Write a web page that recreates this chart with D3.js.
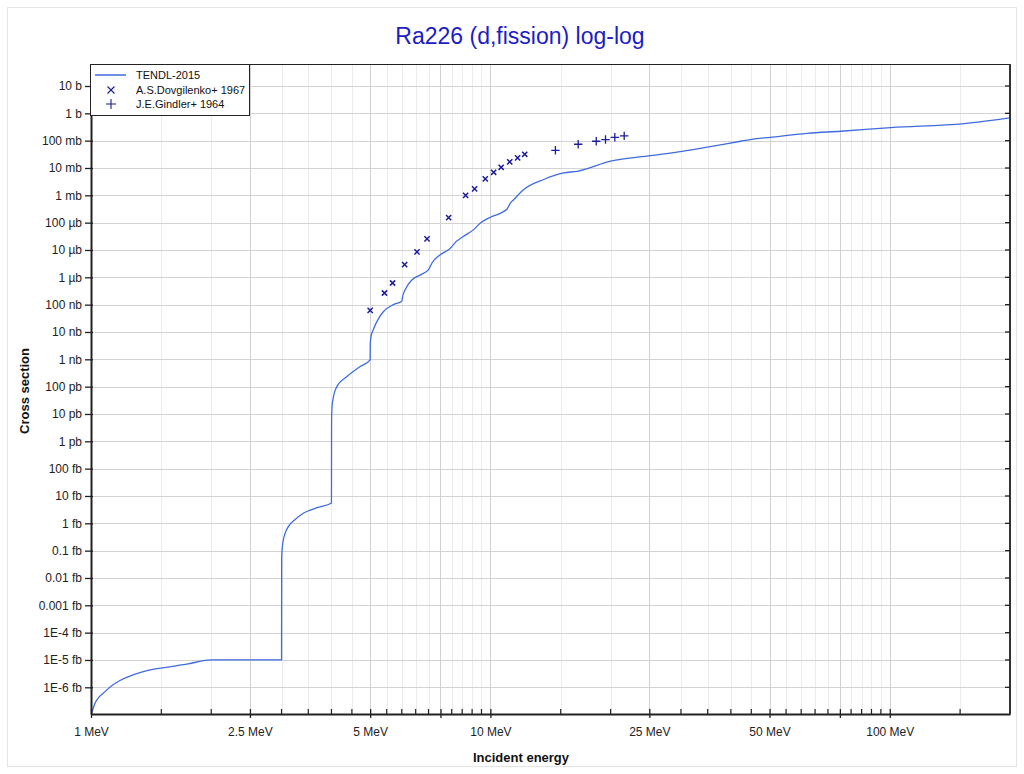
<!DOCTYPE html>
<html>
<head>
<meta charset="utf-8">
<script src="https://cdn.jsdelivr.net/npm/d3@7"></script>
<style>
  html, body { margin: 0; padding: 0; background: #fff; }
  svg { display: block; font-family: "Liberation Sans", Arial, sans-serif; }
</style>
</head>
<body>
<svg id="chart" width="1024" height="774"></svg>
<script>
// ---------------- DATA ----------------
const titleText = "Ra226 (d,fission) log-log";
const xAxisTitle = "Incident energy";
const yAxisTitle = "Cross section";

// TENDL-2015 evaluated curve: energy (MeV), cross section (barns)
const tendlEnergy = [
  1.0, 1.003, 1.006, 1.0116, 1.0233, 1.047, 1.073, 1.12, 1.182, 1.26, 1.352, 1.45, 1.578, 1.75, 2.0,
  3.0, 3.002, 3.01, 3.03, 3.06, 3.12, 3.25, 3.4, 3.7, 4.0,
  4.003, 4.015, 4.035, 4.129, 4.374, 4.724, 5.0,
  5.003, 5.02, 5.1, 5.25, 5.4, 5.72, 6.0,
  6.03, 6.12, 6.37, 6.7, 7.0, 7.14, 7.49, 8.02, 8.08, 8.57, 9.08, 9.44, 10.0,
  11.01, 11.2, 11.44, 12.12, 13.6, 15.27, 16.5, 20.0, 25.2, 30.2, 35.25, 42.3, 44.8,
  50.3, 62.2, 75.4, 100.6, 153.6, 200
];
const tendlXS = [
  1.05e-22, 1.15e-22, 1.3e-22, 1.62e-22, 2.6e-22, 4.4e-22, 6.03e-22, 1.07e-21, 1.78e-21, 2.69e-21, 3.72e-21, 4.68e-21, 5.62e-21, 7.24e-21, 1.0e-20,
  1.0e-20, 5.01e-17, 1.12e-16, 2.40e-16, 4.17e-16, 7.59e-16, 1.41e-15, 2.34e-15, 3.80e-15, 5.50e-15,
  6.31e-12, 2.0e-11, 3.39e-11, 1.02e-10, 2.34e-10, 5.50e-10, 9.55e-10,
  3.16e-9, 6.31e-9, 1.29e-8, 3.16e-8, 5.62e-8, 1.0e-7, 1.32e-7,
  2.0e-7, 3.55e-7, 8.13e-7, 1.26e-6, 1.91e-6, 3.35e-6, 6.76e-6, 1.35e-5, 1.58e-5, 3.16e-5, 5.56e-5, 9.77e-5, 1.58e-4,
  3.16e-4, 5.01e-4, 6.92e-4, 1.62e-3, 3.80e-3, 6.61e-3, 7.59e-3, 1.78e-2, 2.85e-2, 4.07e-2, 5.93e-2, 9.51e-2, 0.110,
  0.133, 0.186, 0.221, 0.302, 0.423, 0.684
];

// A.S.Dovgilenko+ 1967 (x markers)
const dovgEnergy = [5.0, 5.43, 5.69, 6.10, 6.55, 6.94, 7.86, 8.67, 9.13, 9.71, 10.19, 10.64, 11.18, 11.70, 12.19];
const dovgXS = [6.2e-8, 2.67e-7, 6.2e-7, 2.9e-6, 8.5e-6, 2.54e-5, 1.53e-4, 1.0e-3, 1.72e-3, 3.99e-3, 6.97e-3, 1.06e-2, 1.67e-2, 2.34e-2, 3.18e-2];

// J.E.Gindler+ 1964 (+ markers)
const gindEnergy = [14.55, 16.59, 18.41, 19.42, 20.49, 21.63];
const gindXS = [4.44e-2, 7.38e-2, 9.5e-2, 0.11, 0.133, 0.15];

const seriesNames = ["TENDL-2015", "A.S.Dovgilenko+ 1967", "J.E.Gindler+ 1964"];

// Axis ticks
const xMajorTicks = [1, 2.5, 5, 7.5, 10, 25, 50, 75, 100];
const xMajorLabels = ["1 MeV", "2.5 MeV", "5 MeV", "", "10 MeV", "25 MeV", "50 MeV", "", "100 MeV"];
const xMinorTicks = [1.5, 2, 3, 3.5, 4, 4.5, 5.5, 6, 6.5, 7, 8, 8.5, 9, 9.5, 15, 20, 30, 35, 40, 45, 55, 60, 65, 70, 80, 85, 90, 95, 150];
const yTickValues = [1e1, 1e0, 1e-1, 1e-2, 1e-3, 1e-4, 1e-5, 1e-6, 1e-7, 1e-8, 1e-9, 1e-10, 1e-11, 1e-12, 1e-13, 1e-14, 1e-15, 1e-16, 1e-17, 1e-18, 1e-19, 1e-20, 1e-21];
const yTickLabels = ["10 b", "1 b", "100 mb", "10 mb", "1 mb", "100 µb", "10 µb", "1 µb", "100 nb", "10 nb", "1 nb", "100 pb", "10 pb", "1 pb", "100 fb", "10 fb", "1 fb", "0.1 fb", "0.01 fb", "0.001 fb", "1E-4 fb", "1E-5 fb", "1E-6 fb"];

const xDomain = [1, 200];
const yDomain = [1.055e-22, 63.8];

// ---------------- LAYOUT ----------------
const W = 1024, H = 774;
const plot = { left: 91, right: 1010, top: 64, bottom: 714 };
const lineColor = "#3f6be0";
const markerColor = "#1c1c9c";
const titleColor = "#1d1dc4";

const svg = d3.select("#chart");
const x = d3.scaleLog().domain(xDomain).range([plot.left, plot.right]);
const y = d3.scaleLog().domain(yDomain).range([plot.bottom, plot.top]);

// page background + faint border
svg.append("rect").attr("x", 0).attr("y", 0).attr("width", W).attr("height", H).attr("fill", "#fff");
svg.append("rect").attr("x", 7.5).attr("y", 7.5).attr("width", W - 15).attr("height", H - 15)
  .attr("fill", "none").attr("stroke", "#e4e4e4").attr("stroke-width", 1);

// grid
const grid = svg.append("g");
grid.selectAll(".vmin").data(xMinorTicks).join("line")
  .attr("x1", d => Math.round(x(d)) + 0.5).attr("x2", d => Math.round(x(d)) + 0.5)
  .attr("y1", plot.top).attr("y2", plot.bottom)
  .attr("stroke", "#ececec").attr("stroke-width", 1);
grid.selectAll(".vmaj").data(xMajorTicks).join("line")
  .attr("x1", d => Math.round(x(d)) + 0.5).attr("x2", d => Math.round(x(d)) + 0.5)
  .attr("y1", plot.top).attr("y2", plot.bottom)
  .attr("stroke", "#d0d0d0").attr("stroke-width", 1);
grid.selectAll(".h").data(yTickValues).join("line")
  .attr("x1", plot.left).attr("x2", plot.right)
  .attr("y1", d => Math.round(y(d)) + 0.5).attr("y2", d => Math.round(y(d)) + 0.5)
  .attr("stroke", "#d3d3d3").attr("stroke-width", 1.2);

// clip
svg.append("clipPath").attr("id", "clip").append("rect")
  .attr("x", plot.left).attr("y", plot.top)
  .attr("width", plot.right - plot.left).attr("height", plot.bottom - plot.top);

// TENDL curve
const tendl = tendlEnergy.map((e, i) => [e, tendlXS[i]]);
const line = d3.line().x(d => x(d[0])).y(d => y(d[1])).curve(d3.curveMonotoneX);
svg.append("path").datum(tendl)
  .attr("clip-path", "url(#clip)")
  .attr("d", line).attr("fill", "none")
  .attr("stroke", lineColor).attr("stroke-width", 1.3);

// markers
function crossPath(s) { return `M${-s},${-s}L${s},${s}M${-s},${s}L${s},${-s}`; }
function plusPath(s) { return `M${-s},0L${s},0M0,${-s}L0,${s}`; }
svg.append("g").selectAll("path").data(dovgEnergy.map((e, i) => [e, dovgXS[i]])).join("path")
  .attr("transform", d => `translate(${x(d[0])},${y(d[1])})`)
  .attr("d", crossPath(2.6)).attr("stroke", markerColor).attr("stroke-width", 1.5).attr("fill", "none");
svg.append("g").selectAll("path").data(gindEnergy.map((e, i) => [e, gindXS[i]])).join("path")
  .attr("transform", d => `translate(${x(d[0])},${y(d[1])})`)
  .attr("d", plusPath(4.2)).attr("stroke", markerColor).attr("stroke-width", 1.3).attr("fill", "none");

// axes frame
svg.append("line").attr("x1", plot.left).attr("x2", plot.right).attr("y1", plot.top + 0.5).attr("y2", plot.top + 0.5)
  .attr("stroke", "#222").attr("stroke-width", 1);
svg.append("line").attr("x1", plot.right).attr("x2", plot.right).attr("y1", plot.top).attr("y2", plot.bottom)
  .attr("stroke", "#333").attr("stroke-width", 2);

// y axis
const yAxis = d3.axisLeft(y).tickValues(yTickValues)
  .tickFormat((d, i) => yTickLabels[i]).tickSizeInner(6).tickSizeOuter(0).tickPadding(3);
const gy = svg.append("g").attr("transform", `translate(${plot.left},0)`).call(yAxis);
gy.select(".domain").attr("stroke", "#222").attr("stroke-width", 2);
gy.selectAll(".tick line").attr("stroke", "#222").attr("stroke-width", 1.3).attr("x2", -6).attr("x1", 2);
gy.selectAll(".tick text").attr("font-size", 12).attr("fill", "#222")
  .attr("font-family", "Liberation Sans, Arial, sans-serif");

// right side mirror ticks
svg.append("g").selectAll("line").data(yTickValues).join("line")
  .attr("x1", plot.right - 5).attr("x2", plot.right)
  .attr("y1", d => y(d)).attr("y2", d => y(d))
  .attr("stroke", "#222").attr("stroke-width", 1.3);

// x axis
const xAxis = d3.axisBottom(x).tickValues(xMajorTicks)
  .tickFormat((d, i) => xMajorLabels[i]).tickSizeInner(4).tickSizeOuter(0).tickPadding(9);
const gx = svg.append("g").attr("transform", `translate(0,${plot.bottom})`).call(xAxis);
gx.select(".domain").attr("stroke", "#222").attr("stroke-width", 2);
gx.selectAll(".tick line").attr("stroke", "#222").attr("stroke-width", 1.3).attr("y1", -5).attr("y2", 4);
gx.selectAll(".tick text").attr("font-size", 12).attr("fill", "#222")
  .attr("font-family", "Liberation Sans, Arial, sans-serif");
svg.append("g").selectAll("line").data(xMinorTicks).join("line")
  .attr("x1", d => x(d)).attr("x2", d => x(d))
  .attr("y1", plot.bottom - 5).attr("y2", plot.bottom)
  .attr("stroke", "#222").attr("stroke-width", 1.2);

// titles
svg.append("text").attr("x", 520).attr("y", 44).attr("text-anchor", "middle")
  .attr("font-size", 23).attr("fill", titleColor).text(titleText);
svg.append("text").attr("x", 521).attr("y", 762).attr("text-anchor", "middle")
  .attr("font-size", 13).attr("font-weight", "bold").attr("fill", "#111").text(xAxisTitle);
svg.append("text").attr("transform", "translate(29,391) rotate(-90)").attr("text-anchor", "middle")
  .attr("font-size", 13).attr("font-weight", "bold").attr("fill", "#111").text(yAxisTitle);

// legend
const lg = svg.append("g");
lg.append("rect").attr("x", 90.5).attr("y", 64.5).attr("width", 159).attr("height", 51)
  .attr("fill", "#fff").attr("stroke", "#222").attr("stroke-width", 1);
const rowY = [75, 90, 104];
lg.append("line").attr("x1", 95).attr("x2", 126).attr("y1", rowY[0]).attr("y2", rowY[0])
  .attr("stroke", lineColor).attr("stroke-width", 1.5);
lg.append("path").attr("transform", `translate(111,${rowY[1]})`).attr("d", crossPath(3.5))
  .attr("stroke", markerColor).attr("stroke-width", 1.1).attr("fill", "none");
lg.append("path").attr("transform", `translate(111,${rowY[2]})`).attr("d", plusPath(5))
  .attr("stroke", markerColor).attr("stroke-width", 1.1).attr("fill", "none");
lg.selectAll("text.lt").data(seriesNames).join("text")
  .attr("x", 136).attr("y", (d, i) => rowY[i] + 4)
  .attr("font-size", 11).attr("fill", "#111").text(d => d);
</script>
</body>
</html>
